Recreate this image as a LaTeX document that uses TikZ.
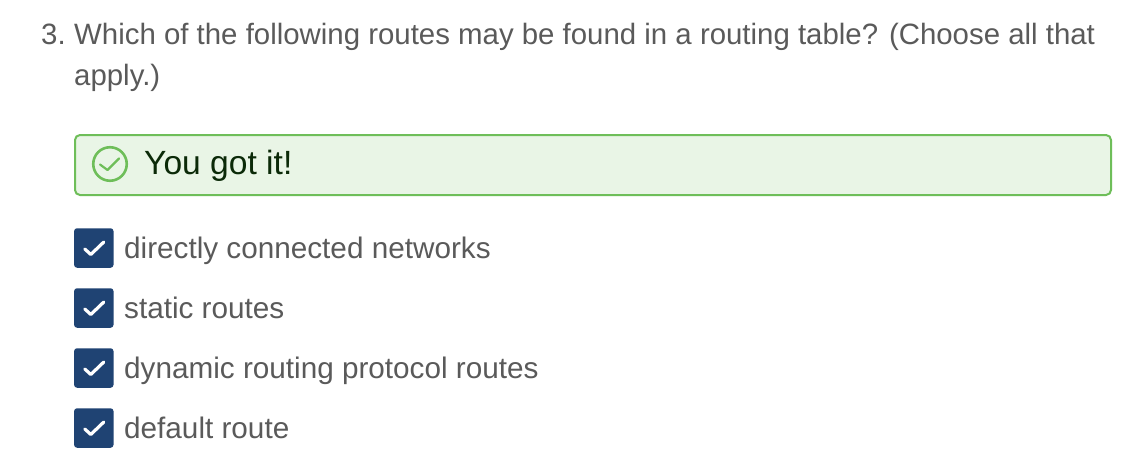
\documentclass[tikz,border=0pt]{standalone}
\usepackage{fontspec}
\setmainfont{Liberation Sans}
\definecolor{txt}{HTML}{5A5A5A}
\definecolor{okb}{HTML}{6EBE59}
\definecolor{okf}{HTML}{E9F5E6}
\definecolor{okt}{HTML}{0B2A08}
\definecolor{chk}{HTML}{1F4373}
\tikzset{x=1pt,y=-1pt,
 q/.style={anchor=base west,inner sep=0,text=txt,font=\fontsize{29.4}{36}\selectfont},
 opt/.style={anchor=base west,inner sep=0,text=txt,font=\fontsize{29.7}{34}\selectfont},
 cb/.style={fill=chk,rounded corners=3,minimum width=39.5,minimum height=39.5,inner sep=0,anchor=center},
 tick/.style={white,line width=3.2,line cap=round,line join=round}}
\newcommand{\optrow}[3]{%
 \node[cb] (#1) at (93.8,#2) {};
 \draw[tick] ([shift={(-9,1)}]#1.center) -- ([shift={(-3,6.5)}]#1.center) -- ([shift={(10,-6)}]#1.center);
 \node[opt] (#1t) at (124,#2+10.5) {#3};}
\begin{document}
\begin{tikzpicture}
\useasboundingbox (0,0) rectangle (1142,476);
\fill[white] (0,0) rectangle (1142,476);
\node[q] (n) at (41,45) {3.};
\node[q] (l1) at (74,45) {Which of the following routes may be found in a routing table? (Choose all that};
\node[q] (l2) at (74,86) {apply.)};
\node[draw=okb,line width=2,fill=okf,rounded corners=5,minimum width=1036,minimum height=60,inner sep=0,anchor=north west] (box) at (74,134) {};
\node[circle,draw=okb,line width=2.6,minimum size=33.5,inner sep=0] (ic) at (110,164) {};
\draw[okb,line width=2.2,line cap=round,line join=round] ([shift={(-10,0.5)}]ic.center) -- ([shift={(-2.5,6)}]ic.center) -- ([shift={(9,-5.5)}]ic.center);
\node[anchor=base west,inner sep=0,text=okt,font=\fontsize{33.6}{38}\selectfont] (ok) at (144,174.5) {You got it!};
\optrow{a}{248}{directly connected networks}
\optrow{b}{308}{static routes}
\optrow{c}{368}{dynamic routing protocol routes}
\optrow{d}{428}{default route}
\end{tikzpicture}
\end{document}
